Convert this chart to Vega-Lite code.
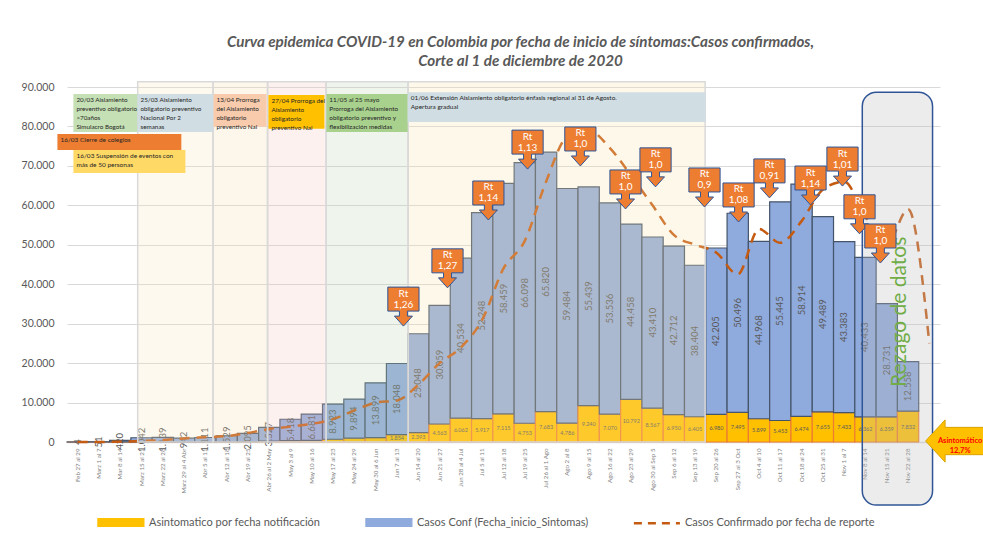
{
  "$schema": "https://vega.github.io/schema/vega-lite/v6.json",
  "width": 873,
  "height": 355,
  "autosize": {"type": "none"},
  "padding": {"left": 67, "top": 87, "right": 43, "bottom": 92},
  "background": "white",
  "title": {
    "text": ["Curva epidemica COVID-19 en Colombia  por fecha de inicio de síntomas:Casos confirmados,", "Corte al 1 de diciembre de 2020"],
    "font": "Lato",
    "fontSize": 15.2,
    "fontStyle": "italic",
    "fontWeight": "bold",
    "color": "#595959",
    "anchor": "middle",
    "offset": 12,
    "dx": 17,
    "lineHeight": 19
  },
  "datasets": {
    "semanas": [
      {"cat": "Feb 27 al 29", "asin": 0, "conf": 4, "rep": 0},
      {"cat": "Marz 1 al 7", "asin": 0, "conf": 51, "rep": 0},
      {"cat": "Mar 8 al 14", "asin": 10, "conf": 420, "rep": 100},
      {"cat": "Marz 15 al 21", "asin": 40, "conf": 1042, "rep": 250},
      {"cat": "Marz 22 al 28", "asin": 30, "conf": 1139, "rep": 500},
      {"cat": "Marz 29 al 4 Abr", "asin": 30, "conf": 942, "rep": 900},
      {"cat": "Abr 5 al 11", "asin": 30, "conf": 1111, "rep": 1200},
      {"cat": "Abr 12 al 18", "asin": 60, "conf": 1529, "rep": 1500},
      {"cat": "Abr 19 al 25", "asin": 100, "conf": 2095, "rep": 2300},
      {"cat": "Abr 26 al 2 May", "asin": 200, "conf": 3527, "rep": 3300},
      {"cat": "May 3 al 9", "asin": 350, "conf": 5418, "rep": 3900},
      {"cat": "May 10 al 16", "asin": 400, "conf": 6681, "rep": 4600},
      {"cat": "May 17 al 23", "asin": 700, "conf": 8923, "rep": 5800},
      {"cat": "May 24 al 29", "asin": 1000, "conf": 9894, "rep": 8000},
      {"cat": "May 30 al 6 Jun", "asin": 1100, "conf": 13899, "rep": 10000},
      {"cat": "Jun 7 al 13", "asin": 1854, "conf": 18048, "rep": 10500},
      {"cat": "Jun 14 al 20", "asin": 2393, "conf": 25048, "rep": 14500},
      {"cat": "Jun 21 al 27", "asin": 4563, "conf": 30059, "rep": 20000},
      {"cat": "Jun 28 al 4 Jul", "asin": 6062, "conf": 40534, "rep": 24000},
      {"cat": "Jul 5 al 11", "asin": 5917, "conf": 52248, "rep": 31000},
      {"cat": "Jul 12 al 18", "asin": 7115, "conf": 58459, "rep": 44000},
      {"cat": "Jul 19 al 25", "asin": 4753, "conf": 66098, "rep": 51000},
      {"cat": "Jul 26 al 1 Ago", "asin": 7683, "conf": 65820, "rep": 66000},
      {"cat": "Ago 2 al 8", "asin": 4786, "conf": 59484, "rep": 77500},
      {"cat": "Ago 9 al 15", "asin": 9240, "conf": 55439, "rep": 79000},
      {"cat": "Ago 16 al 22", "asin": 7070, "conf": 53536, "rep": 74500},
      {"cat": "Ago 23 al 29", "asin": 10792, "conf": 44458, "rep": 67500},
      {"cat": "Ago 30 al Sep 5", "asin": 8567, "conf": 43410, "rep": 60000},
      {"cat": "Sep 6 al 12", "asin": 6950, "conf": 42712, "rep": 52500},
      {"cat": "Sep 13 al 19", "asin": 6405, "conf": 38404, "rep": 50000},
      {"cat": "Sep 20 al 26", "asin": 6980, "conf": 42205, "rep": 48000},
      {"cat": "Sep 27 al 3 Oct", "asin": 7495, "conf": 50496, "rep": 42500},
      {"cat": "Oct 4 al 10", "asin": 5899, "conf": 44968, "rep": 54000},
      {"cat": "Oct 11 al 17", "asin": 5453, "conf": 55445, "rep": 50500},
      {"cat": "Oct 18 al 24", "asin": 6474, "conf": 58914, "rep": 56000},
      {"cat": "Oct 25 al 31", "asin": 7655, "conf": 49489, "rep": 64000},
      {"cat": "Nov 1 al 7", "asin": 7433, "conf": 43383, "rep": 66000},
      {"cat": "Nov 8 al 14", "asin": 6362, "conf": 40433, "rep": 57000},
      {"cat": "Nov 15 al 21", "asin": 6359, "conf": 28731, "rep": 50000},
      {"cat": "Nov 22 al 28", "asin": 7832, "conf": 12558, "rep": 59000},
      {"cat": "Nov 29 al 1 Dic", "asin": null, "conf": null, "rep": 25000}
    ],
    "zonas": [
      {"id": "z1", "x0": 3.32, "x1": 6.86},
      {"id": "z2", "x0": 6.86, "x1": 9.42},
      {"id": "z3", "x0": 9.42, "x1": 12.17},
      {"id": "z4", "x0": 12.17, "x1": 16.02},
      {"id": "z5", "x0": 16.02, "x1": 29.97}
    ],
    "eventos": [
      {"id": "e1", "x0": 0.3, "x1": 3.31, "y0": 88200, "y1": 78600, "texto": "20/03 Aislamiento\npreventivo obligatorio\n>70años\nSimulacro Bogotá"},
      {"id": "e2", "x0": 3.31, "x1": 6.86, "y0": 88200, "y1": 78600, "texto": "25/03 Aislamiento\nobligatorio preventivo\nNacional  Por 2\nsemanas"},
      {"id": "e3", "x0": 6.88, "x1": 9.37, "y0": 88200, "y1": 79900, "texto": "13/04 Prorroga\ndel Aislamiento\nobligatorio\npreventivo  Nal"},
      {"id": "e4", "x0": 9.46, "x1": 12.09, "y0": 88000, "y1": 79400, "texto": "27/04 Prorroga del\nAislamiento\nobligatorio\npreventivo  Nal"},
      {"id": "e5", "x0": 12.18, "x1": 16.0, "y0": 88200, "y1": 78600, "texto": "11/05 al 25 mayo\nProrroga del Aislamiento\nobligatorio preventivo y\nflexibilización medidas"},
      {"id": "e6", "x0": 16.0, "x1": 29.99, "y0": 88700, "y1": 81100, "texto": "01/06  Extensión Aislamiento obligatorio énfasis regional al 31 de Agosto.\nApertura gradual"},
      {"id": "e7", "x0": -0.45, "x1": 5.37, "y0": 78100, "y1": 74000, "texto": "16/03 Cierre de colegios"},
      {"id": "e8", "x0": 0.3, "x1": 5.56, "y0": 74000, "y1": 68200, "texto": "16/03 Suspensión de eventos con\n          más de 50 personas"}
    ],
    "rt": [
      {"x": 15.8, "y": 34200, "rt": "1,26"},
      {"x": 17.87, "y": 43900, "rt": "1,27"},
      {"x": 19.79, "y": 61100, "rt": "1,14"},
      {"x": 21.63, "y": 74000, "rt": "1,13"},
      {"x": 24.11, "y": 74800, "rt": "1,0"},
      {"x": 26.23, "y": 63900, "rt": "1,0"},
      {"x": 27.64, "y": 69500, "rt": "1,0"},
      {"x": 29.94, "y": 64400, "rt": "0,9"},
      {"x": 31.54, "y": 60600, "rt": "1,08"},
      {"x": 32.99, "y": 66700, "rt": "0,91"},
      {"x": 34.92, "y": 64900, "rt": "1,14"},
      {"x": 36.42, "y": 69700, "rt": "1,01"},
      {"x": 37.22, "y": 57600, "rt": "1,0"},
      {"x": 38.2, "y": 50200, "rt": "1,0"}
    ],
    "rezago": [{"x0": 37.35, "x1": 40.65, "y0": 88700, "y1": -16000}],
    "rotulo": [{"x": 39.1, "y": 33000, "texto": "Rezago de datos"}],
    "flecha": [{"x": 41.85, "y": 250, "texto": "Asintomático\n12,7%"}]
  },
  "layer": [
    {
      "data": {"name": "semanas"},
      "layer": [
        {
          "transform": [{"fold": ["asin", "conf"], "as": ["serie", "val"]}],
          "mark": {"type": "bar", "strokeWidth": 1.2},
          "encoding": {
            "x": {
              "field": "cat", "type": "nominal", "sort": null, "title": null,
              "scale": {"paddingInner": 0, "paddingOuter": 0},
              "axis": {
                "labelAngle": -90, "labelFont": "Lato", "labelFontSize": 6.2, "labelColor": "#7F7F7F",
                "labelPadding": 6, "ticks": false, "domain": true, "domainColor": "#D9D9D9", "domainWidth": 1.5,
                "grid": false, "labelExpr": "datum.value == 'Nov 29 al 1 Dic' ? '' : datum.label"
              }
            },
            "y": {
              "field": "val", "type": "quantitative", "stack": "zero", "title": null,
              "scale": {"domain": [0, 90000], "nice": false}
            },
            "color": {
              "field": "serie", "type": "nominal",
              "scale": {"domain": ["asin", "conf", "rep"], "range": ["#FFC000", "#8FAADC", "#C55A11"]},
              "legend": {
                "title": null, "orient": "none", "legendX": 30, "legendY": 430, "direction": "horizontal",
                "columns": 3, "columnPadding": 39, "labelFont": "Lato", "labelFontSize": 11, "labelColor": "#595959",
                "labelLimit": 400, "labelOffset": 41,
                "labelExpr": "datum.value == 'asin' ? 'Asintomatico  por fecha notificación' : datum.value == 'conf' ? 'Casos Conf (Fecha_inicio_Sintomas)' : 'Casos Confirmado por fecha de reporte'",
                "encode": {
                  "symbols": {
                    "update": {
                      "shape": {"signal": "datum.value == 'rep' ? 'M-0.2,0H1.8' : 'M-0.2,-0.17H1.8V0.17H-0.2Z'"},
                      "fill": {"signal": "datum.value == 'rep' ? 'transparent' : datum.value == 'asin' ? '#FFC000' : '#8FAADC'"},
                      "stroke": {"signal": "datum.value == 'conf' ? '#44546A' : datum.value == 'asin' ? '#ED7D31' : '#C55A11'"},
                      "strokeDash": {"signal": "datum.value == 'rep' ? [8, 6] : []"},
                      "strokeWidth": {"signal": "datum.value == 'rep' ? 2.5 : 1.2"},
                      "opacity": {"value": 1},
                      "size": {"value": 2116}
                    }
                  }
                }
              }
            },
            "stroke": {
              "field": "serie", "type": "nominal",
              "scale": {"domain": ["asin", "conf"], "range": ["#ED7D31", "#44546A"]},
              "legend": null
            },
            "order": {"field": "serie", "sort": "ascending"}
          }
        },
        {
          "transform": [{"fold": ["asin", "conf"], "as": ["serie", "val"]}],
          "mark": {"type": "text", "angle": 270, "fontSize": 9.5, "color": "#595959", "font": "Lato", "align": "center", "baseline": "middle"},
          "encoding": {
            "x": {"field": "cat", "type": "nominal", "sort": null, "title": null},
            "y": {"field": "val", "type": "quantitative", "stack": "zero", "bandPosition": 0.5, "title": null},
            "detail": {"field": "serie"},
            "order": {"field": "serie", "sort": "ascending"},
            "text": {"condition": {"test": "datum.serie == 'conf'", "field": "val", "type": "quantitative", "format": ",d"}, "value": ""}
          }
        },
        {
          "transform": [{"fold": ["asin", "conf"], "as": ["serie", "val"]}],
          "mark": {"type": "text", "fontSize": 5.5, "color": "#595959", "font": "Lato", "align": "center", "baseline": "middle"},
          "encoding": {
            "x": {"field": "cat", "type": "nominal", "sort": null, "title": null},
            "y": {"field": "val", "type": "quantitative", "stack": "zero", "bandPosition": 0.5, "title": null},
            "detail": {"field": "serie"},
            "order": {"field": "serie", "sort": "ascending"},
            "text": {"condition": {"test": "datum.serie == 'asin' && datum.val >= 1500", "field": "val", "type": "quantitative", "format": ",d"}, "value": ""}
          }
        },
        {
          "mark": {"type": "line", "strokeDash": [10, 7], "strokeWidth": 2.5, "interpolate": "monotone"},
          "encoding": {
            "x": {"field": "cat", "type": "nominal", "sort": null, "title": null},
            "y": {"field": "rep", "type": "quantitative", "title": null},
            "color": {"datum": "rep", "type": "nominal"}
          }
        }
      ]
    },
    {
      "layer": [
        {
          "data": {"name": "zonas"},
          "mark": {"type": "rect", "fillOpacity": 0.25, "stroke": "#D9D9D9", "strokeWidth": 1.5},
          "encoding": {
            "x": {"field": "x0", "type": "quantitative", "scale": {"domain": [0, 41], "nice": false, "zero": false}, "axis": null},
            "x2": {"field": "x1"},
            "y": {"datum": 91300, "type": "quantitative", "title": null},
            "y2": {"datum": 0},
            "fill": {
              "field": "id", "type": "nominal", "legend": null,
              "scale": {
                "domain": ["z1", "z2", "z3", "z4", "z5", "e1", "e2", "e3", "e4", "e5", "e6", "e7", "e8"],
                "range": ["#FBE7BB", "#F7DBAB", "#F3C7BB", "#BFD7B3", "#FBE3AB", "#C5E0B4", "#D0DDE3", "#F8CBAD", "#FFC000", "#A9D18E", "#D0DDE3", "#ED7D31", "#FFD966"]
              }
            }
          }
        },
        {
          "data": {"name": "eventos"},
          "mark": {"type": "rect"},
          "encoding": {
            "x": {"field": "x0", "type": "quantitative", "axis": null},
            "x2": {"field": "x1"},
            "y": {"field": "y0", "type": "quantitative", "title": null},
            "y2": {"field": "y1"},
            "fill": {
              "field": "id", "type": "nominal", "legend": null,
              "scale": {
                "domain": ["z1", "z2", "z3", "z4", "z5", "e1", "e2", "e3", "e4", "e5", "e6", "e7", "e8"],
                "range": ["#FBE7BB", "#F7DBAB", "#F3C7BB", "#BFD7B3", "#FBE3AB", "#C5E0B4", "#D0DDE3", "#F8CBAD", "#FFC000", "#A9D18E", "#D0DDE3", "#ED7D31", "#FFD966"]
              }
            }
          }
        },
        {
          "data": {"name": "eventos"},
          "mark": {"type": "text", "align": "left", "baseline": "top", "dx": 3, "dy": 3, "font": "Lato", "color": "#262626", "lineBreak": "\n", "lineHeight": 9},
          "encoding": {
            "x": {"field": "x0", "type": "quantitative", "axis": null},
            "y": {"field": "y0", "type": "quantitative", "title": null},
            "text": {"field": "texto", "type": "nominal"},
            "size": {
              "field": "id", "type": "nominal", "legend": null,
              "scale": {"domain": ["e1", "e2", "e3", "e4", "e5", "e6", "e7", "e8"], "range": [6.3, 6.5, 5.3, 5.3, 6.3, 7, 8.5, 6.3]}
            }
          }
        },
        {
          "data": {"name": "rezago"},
          "mark": {"type": "rect", "cornerRadius": 14, "fill": "#BFBFBF", "fillOpacity": 0.3, "stroke": "#2F5597", "strokeWidth": 1.5},
          "encoding": {
            "x": {"field": "x0", "type": "quantitative", "axis": null},
            "x2": {"field": "x1"},
            "y": {"field": "y0", "type": "quantitative", "title": null},
            "y2": {"field": "y1"}
          }
        },
        {
          "data": {"name": "rotulo"},
          "mark": {"type": "text", "angle": 270, "fontSize": 21, "font": "Lato", "color": "#70AD47", "align": "center", "baseline": "middle"},
          "encoding": {
            "x": {"field": "x", "type": "quantitative", "axis": null},
            "y": {"field": "y", "type": "quantitative", "title": null},
            "text": {"field": "texto", "type": "nominal"}
          }
        },
        {
          "data": {"name": "rt"},
          "mark": {"type": "point", "shape": "M-0.78,-1H0.78V0.2H0.2V0.45H0.45L0,0.95L-0.45,0.45H-0.2V0.2H-0.78Z", "size": 1600, "filled": true, "fill": "#ED7D31", "stroke": "#2F5597", "strokeWidth": 1, "opacity": 1},
          "encoding": {
            "x": {"field": "x", "type": "quantitative", "axis": null},
            "y": {"field": "y", "type": "quantitative", "title": null}
          }
        },
        {
          "data": {"name": "rt"},
          "mark": {"type": "text", "dy": -13.5, "fontSize": 10, "font": "Lato", "color": "white", "align": "center", "baseline": "middle"},
          "encoding": {
            "x": {"field": "x", "type": "quantitative", "axis": null},
            "y": {"field": "y", "type": "quantitative", "title": null},
            "text": {"value": "Rt"}
          }
        },
        {
          "data": {"name": "rt"},
          "mark": {"type": "text", "dy": -2.5, "fontSize": 10, "font": "Lato", "color": "white", "align": "center", "baseline": "middle"},
          "encoding": {
            "x": {"field": "x", "type": "quantitative", "axis": null},
            "y": {"field": "y", "type": "quantitative", "title": null},
            "text": {"field": "rt", "type": "nominal"}
          }
        },
        {
          "data": {"name": "flecha"},
          "mark": {"type": "point", "shape": "M-1,0L-0.4,-0.65V-0.42H1V0.42H-0.4V0.65Z", "size": 4225, "filled": true, "fill": "#FFC000", "stroke": "#D9A300", "strokeWidth": 1, "opacity": 1},
          "encoding": {
            "x": {"field": "x", "type": "quantitative", "axis": null},
            "y": {"field": "y", "type": "quantitative", "title": null}
          }
        },
        {
          "data": {"name": "flecha"},
          "mark": {"type": "text", "dx": 2, "fontSize": 7.5, "fontWeight": "bold", "font": "Lato", "color": "#FF0000", "align": "center", "baseline": "middle", "lineBreak": "\n", "lineHeight": 10},
          "encoding": {
            "x": {"field": "x", "type": "quantitative", "axis": null},
            "y": {"field": "y", "type": "quantitative", "title": null},
            "text": {"field": "texto", "type": "nominal"}
          }
        }
      ]
    }
  ],
  "resolve": {"scale": {"x": "independent"}},
  "config": {
    "font": "Lato",
    "view": {"stroke": null},
    "axisY": {
      "tickCount": 9, "domain": false, "ticks": false, "grid": true, "gridColor": "#D9D9D9",
      "labelOverlap": false, "labelFlush": false, "labelBound": false,
      "labelFont": "Lato", "labelFontSize": 10.5, "labelColor": "#595959", "labelPadding": 13
    },
    "locale": {"number": {"decimal": ",", "thousands": ".", "grouping": [3], "currency": ["$", ""]}}
  }
}
